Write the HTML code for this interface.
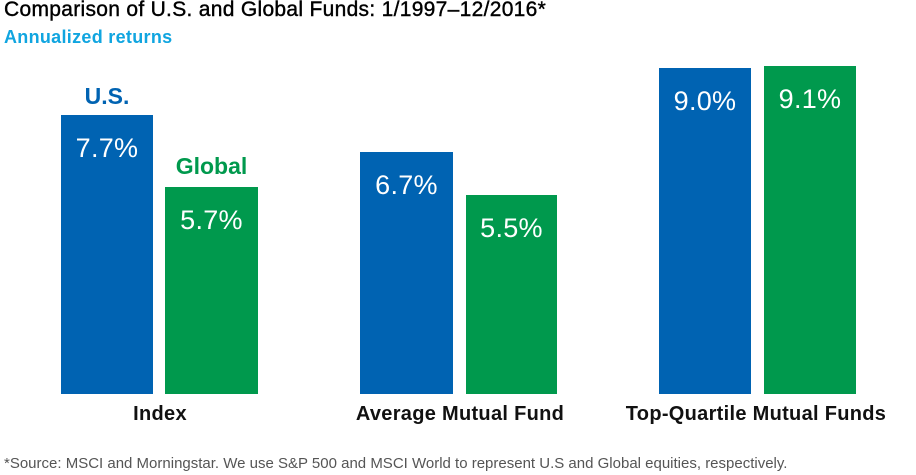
<!DOCTYPE html><html><head><style>
body{margin:0;width:916px;height:475px;background:#fff;position:relative;overflow:hidden;font-family:"Liberation Sans",sans-serif}
.t{position:absolute;white-space:nowrap}
.b{position:absolute;bottom:81px}
.u{background:#0063b2}.g{background:#00994d}
.v{position:absolute;width:100%;text-align:center;color:#fff;font-size:27px;top:18px;letter-spacing:0.3px}
.c{position:absolute;font-size:20px;font-weight:bold;text-align:center;top:403px;color:#111;letter-spacing:0.3px}
</style></head><body>
<div class="t" style="left:4px;top:-2px;font-size:21px;color:#000;letter-spacing:0.3px;-webkit-text-stroke:0.4px #000">Comparison of U.S. and Global Funds: 1/1997–12/2016*</div>
<div class="t" style="left:4px;top:27px;font-size:18px;font-weight:bold;color:#10a5e0;letter-spacing:0.3px">Annualized returns</div>
<div class="t" style="left:61px;width:92px;text-align:center;top:83px;font-size:23px;font-weight:bold;color:#0063b2">U.S.</div>
<div class="t" style="left:165px;width:93px;text-align:center;top:153px;font-size:23px;font-weight:bold;color:#00994d">Global</div>
<div class="b u" style="left:61px;width:92px;top:115px"><div class="v">7.7%</div></div>
<div class="b g" style="left:165px;width:93px;top:187px"><div class="v">5.7%</div></div>
<div class="b u" style="left:360px;width:93px;top:152px"><div class="v">6.7%</div></div>
<div class="b g" style="left:466px;width:91px;top:195px"><div class="v">5.5%</div></div>
<div class="b u" style="left:659px;width:92px;top:68px"><div class="v">9.0%</div></div>
<div class="b g" style="left:764px;width:92px;top:66px"><div class="v">9.1%</div></div>
<div class="c" style="left:60px;width:200px">Index</div>
<div class="c" style="left:320px;width:280px">Average Mutual Fund</div>
<div class="c" style="left:600px;width:312px">Top-Quartile Mutual Funds</div>
<div class="t" style="left:4px;top:455px;font-size:15px;color:#555">*Source: MSCI and Morningstar. We use S&amp;P 500 and MSCI World to represent U.S and Global equities, respectively.</div>
</body></html>
